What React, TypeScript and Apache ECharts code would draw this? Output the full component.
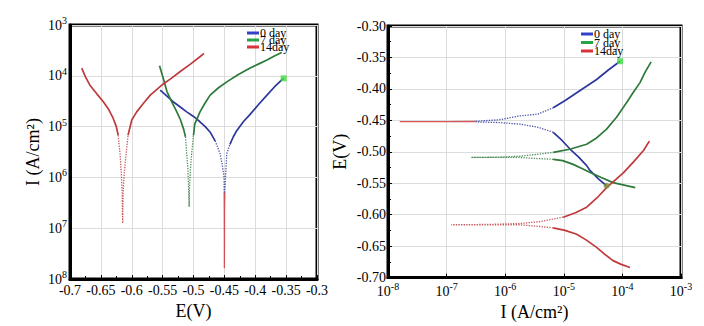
import React, { useEffect, useRef } from "react";
import * as echarts from "echarts";

const FONT = "'Liberation Serif', 'Times New Roman', serif";

const dayNames = ["0 day", "7 day", "14day"];
const lineColors = ["#2c379c", "#2e7a3a", "#c03a3c"];
const legendColors = ["#3340c8", "#27a448", "#d6333b"];
const spikeColor = "#cc3a3a";
const endMarkerColor = "#3fdc3f";
const startMarkerColor = "#7f8f3a";

const eMin = -0.7;
const eMax = -0.3;
const eStep = 0.05;
const iMin = 1e-8;
const iMax = 1e-3;

// ---- Left panel: I vs E (E in V, log10 of I in A/cm2) ----
const blueLeftE = [-0.554, -0.543, -0.533, -0.522, -0.511, -0.5, -0.49, -0.481, -0.473, -0.465, -0.457, -0.4535, -0.4506, -0.4503, -0.4502, -0.4501, -0.45, -0.45, -0.4499, -0.4498, -0.4497, -0.4493, -0.448, -0.446, -0.441, -0.4355, -0.43, -0.419, -0.409, -0.395, -0.381, -0.369, -0.357, -0.354];
const blueLeftLogI = [-4.28, -4.4, -4.51, -4.61, -4.71, -4.8, -4.9, -5.0, -5.11, -5.28, -5.53, -5.75, -5.99, -6.3, -6.6, -7.0, -7.4, -7.79, -7.4, -7.0, -6.6, -6.3, -5.95, -5.53, -5.35, -5.2, -5.08, -4.9, -4.77, -4.57, -4.38, -4.22, -4.08, -4.05];
const greenLeftE = [-0.555, -0.549, -0.543, -0.535, -0.527, -0.521, -0.516, -0.513, -0.511, -0.509, -0.508, -0.507, -0.5065, -0.505, -0.503, -0.5, -0.498, -0.4895, -0.481, -0.473, -0.46, -0.446, -0.428, -0.409, -0.395, -0.381, -0.369, -0.357];
const greenLeftLogI = [-3.8, -4.05, -4.31, -4.52, -4.71, -4.87, -5.05, -5.2, -5.53, -5.85, -6.2, -6.58, -6.2, -5.85, -5.53, -5.17, -4.95, -4.71, -4.53, -4.38, -4.24, -4.12, -3.98, -3.85, -3.77, -3.69, -3.61, -3.54];
const redLeftE = [-0.681, -0.675, -0.668, -0.657, -0.646, -0.637, -0.63, -0.625, -0.622, -0.619, -0.617, -0.6155, -0.6147, -0.614, -0.612, -0.609, -0.606, -0.6, -0.592, -0.581, -0.57, -0.549, -0.536, -0.522, -0.505, -0.489, -0.483];
const redLeftLogI = [-3.85, -4.02, -4.18, -4.35, -4.51, -4.67, -4.84, -5.0, -5.17, -5.53, -5.9, -6.3, -6.9, -6.3, -5.9, -5.53, -5.17, -4.87, -4.71, -4.54, -4.38, -4.16, -4.05, -3.92, -3.77, -3.62, -3.56];

// ---- Right panel: E vs I ----
const blueRightE = [-0.554, -0.543, -0.53, -0.522, -0.508, -0.496, -0.482, -0.469, -0.461, -0.456, -0.4535, -0.4525, -0.452, -0.452, -0.452, -0.4515, -0.449, -0.443, -0.44, -0.43, -0.418, -0.406, -0.395, -0.385, -0.37, -0.356];
const blueRightLogI = [-4.27, -4.41, -4.55, -4.61, -4.75, -4.89, -5.03, -5.18, -5.44, -5.75, -6.1, -6.5, -7.0, -7.8, -7.0, -6.5, -6.1, -5.75, -5.44, -5.18, -4.97, -4.78, -4.6, -4.44, -4.24, -4.04];
const greenRightE = [-0.557, -0.553, -0.549, -0.541, -0.533, -0.526, -0.52, -0.514, -0.512, -0.5105, -0.509, -0.509, -0.509, -0.5085, -0.507, -0.504, -0.501, -0.496, -0.488, -0.478, -0.464, -0.445, -0.422, -0.405, -0.39, -0.373, -0.357];
const greenRightLogI = [-3.78, -3.97, -4.16, -4.36, -4.55, -4.7, -4.84, -5.02, -5.18, -5.5, -5.75, -6.1, -6.58, -6.1, -5.75, -5.45, -5.18, -4.9, -4.61, -4.44, -4.27, -4.1, -3.93, -3.81, -3.7, -3.61, -3.51];
const redRightE = [-0.684, -0.679, -0.673, -0.663, -0.652, -0.64, -0.631, -0.625, -0.621, -0.618, -0.616, -0.616, -0.616, -0.6155, -0.614, -0.611, -0.604, -0.597, -0.588, -0.573, -0.557, -0.533, -0.516, -0.498, -0.483];
const redRightLogI = [-3.87, -4.02, -4.16, -4.3, -4.44, -4.62, -4.78, -4.98, -5.18, -5.5, -5.75, -6.3, -6.92, -6.3, -5.75, -5.4, -5.01, -4.8, -4.61, -4.43, -4.27, -3.98, -3.81, -3.64, -3.54];

const leftCurves = [
  { E: blueLeftE, L: blueLeftLogI },
  { E: greenLeftE, L: greenLeftLogI },
  { E: redLeftE, L: redLeftLogI },
];
const rightCurves = [
  { E: blueRightE, L: blueRightLogI },
  { E: greenRightE, L: greenRightLogI },
  { E: redRightE, L: redRightLogI },
];

const dottedBelowLeft = -5.5;
const dottedBelowRight = -5.4;
const redTailBelow = -6.55;

type Seg = { cat: string; idx: number[] };

function toSegments(L: number[], threshold: number, redBelow: number | null): Seg[] {
  const cat = (l: number) =>
    redBelow !== null && l <= redBelow ? "red" : l <= threshold ? "dotted" : "solid";
  const segs: Seg[] = [];
  let cur: Seg | null = null;
  for (let i = 0; i < L.length - 1; i++) {
    const c = cat(Math.min(L[i], L[i + 1]));
    if (!cur || cur.cat !== c) {
      cur = { cat: c, idx: [i] };
      segs.push(cur);
    }
    cur.idx.push(i + 1);
  }
  return segs;
}

function buildSeries(panel: number) {
  const curves = panel === 0 ? leftCurves : rightCurves;
  const th = panel === 0 ? dottedBelowLeft : dottedBelowRight;
  const out: any[] = [];
  curves.forEach((c, k) => {
    const segs = toSegments(c.L, th, k === 0 ? redTailBelow : null);
    segs.forEach((s) => {
      const data = s.idx.map((i) =>
        panel === 0 ? [c.E[i], Math.pow(10, c.L[i])] : [Math.pow(10, c.L[i]), c.E[i]]
      );
      const isRed = s.cat === "red";
      out.push({
        type: "line",
        name: dayNames[k],
        xAxisIndex: panel,
        yAxisIndex: panel,
        data,
        showSymbol: false,
        symbol: "none",
        silent: true,
        z: isRed ? 4 : 3,
        itemStyle: { color: legendColors[k] },
        lineStyle: {
          color: isRed ? spikeColor : lineColors[k],
          width: s.cat === "solid" ? 1.7 : 1.3,
          type: s.cat === "dotted" ? "dotted" : "solid",
          opacity: s.cat === "solid" ? 1 : 0.85,
        },
      });
    });
  });
  return out;
}

function markerSeries() {
  const bl = leftCurves[0];
  const br = rightCurves[0];
  const nl = bl.E.length - 1;
  const nr = br.E.length - 1;
  return [
    {
      type: "scatter",
      xAxisIndex: 0,
      yAxisIndex: 0,
      symbol: "rect",
      symbolSize: 6,
      z: 6,
      silent: true,
      itemStyle: { color: endMarkerColor },
      data: [[bl.E[nl], Math.pow(10, bl.L[nl])]],
    },
    {
      type: "scatter",
      xAxisIndex: 1,
      yAxisIndex: 1,
      symbol: "rect",
      symbolSize: 6,
      z: 6,
      silent: true,
      itemStyle: { color: endMarkerColor },
      data: [[Math.pow(10, br.L[nr]), br.E[nr]]],
    },
    {
      type: "scatter",
      xAxisIndex: 1,
      yAxisIndex: 1,
      symbol: "circle",
      symbolSize: 6,
      z: 6,
      silent: true,
      itemStyle: { color: startMarkerColor },
      data: [[Math.pow(10, br.L[0]), br.E[0]]],
    },
  ];
}

const powLabel = (v: number, showMinus: boolean) => {
  const ex = Math.round(Math.log10(v));
  return "{b|10}{s|" + (showMinus ? String(ex) : String(Math.abs(ex))) + "}";
};

const powRich = {
  b: { fontFamily: FONT, fontSize: 14, color: "#000" },
  s: { fontFamily: FONT, fontSize: 10, color: "#000", padding: [0, 0, 9, 0] },
};

const splitStyle = { show: true, lineStyle: { color: "#dcdcdc", width: 1 } };
const frameLine = { show: true, onZero: false, lineStyle: { color: "#000", width: 3 } };
const nameStyle = { fontFamily: FONT, fontSize: 18, color: "#000" };
const labelStyle = { fontFamily: FONT, fontSize: 14, color: "#000" };

export default function App() {
  const ref = useRef<HTMLDivElement>(null);
  useEffect(() => {
    if (!ref.current) return;
    const chart = echarts.init(ref.current, undefined, { renderer: "svg" });
    const legendData = dayNames.map((n, k) => ({ name: n, itemStyle: { color: legendColors[k] } }));
    const legendBase = {
      data: legendData,
      orient: "vertical",
      icon: "rect",
      itemWidth: 12,
      itemHeight: 3,
      padding: 0,
      selectedMode: false,
      textStyle: { fontFamily: FONT, fontSize: 12, color: "#000", padding: [0, 0, 0, -4] },
    };
    chart.setOption({
      animation: false,
      backgroundColor: "#fff",
      textStyle: { fontFamily: FONT },
      legend: [
        { ...legendBase, left: 247, top: 27, itemGap: -5 },
        { ...legendBase, left: 581, top: 28, itemGap: -3.5 },
      ],
      grid: [
        { left: 70, top: 25, width: 247, height: 254, show: true, borderColor: "#000", borderWidth: 3 },
        { left: 388, top: 26, width: 293, height: 252, show: true, borderColor: "#000", borderWidth: 3 },
      ],
      xAxis: [
        {
          gridIndex: 0,
          type: "value",
          min: eMin,
          max: eMax,
          interval: eStep,
          name: "E(V)",
          nameLocation: "middle",
          nameGap: 22,
          nameTextStyle: nameStyle,
          axisLine: frameLine,
          axisTick: { show: true, inside: true, length: 4, lineStyle: { color: "#000" } },
          minorTick: { show: true, splitNumber: 2, length: 3, lineStyle: { color: "#000" } },
          axisLabel: { ...labelStyle, margin: 4 },
          splitLine: splitStyle,
        },
        {
          gridIndex: 1,
          type: "log",
          logBase: 10,
          min: iMin,
          max: iMax,
          name: "I (A/cm²)",
          nameLocation: "middle",
          nameGap: 24,
          nameTextStyle: nameStyle,
          axisLine: frameLine,
          axisTick: { show: true, inside: true, length: 4, lineStyle: { color: "#000" } },
          axisLabel: {
            ...labelStyle,
            margin: 4,
            formatter: (v: number) => powLabel(v, true),
            rich: powRich,
          },
          splitLine: splitStyle,
        },
      ],
      yAxis: [
        {
          gridIndex: 0,
          type: "log",
          logBase: 10,
          min: iMin,
          max: iMax,
          name: "I (A/cm²)",
          nameLocation: "middle",
          nameGap: 28,
          nameTextStyle: nameStyle,
          axisLine: frameLine,
          axisTick: { show: false },
          axisLabel: {
            ...labelStyle,
            margin: 3,
            formatter: (v: number) => powLabel(v, false),
            rich: powRich,
          },
          splitLine: splitStyle,
        },
        {
          gridIndex: 1,
          type: "value",
          min: eMin,
          max: eMax,
          interval: eStep,
          name: "E(V)",
          nameLocation: "middle",
          nameGap: 39,
          nameTextStyle: nameStyle,
          axisLine: frameLine,
          axisTick: { show: true, inside: true, length: 4, lineStyle: { color: "#000" } },
          minorTick: { show: true, splitNumber: 2, length: 3, lineStyle: { color: "#000" } },
          axisLabel: {
            ...labelStyle,
            margin: 2,
            formatter: (v: number) => v.toFixed(2),
          },
          splitLine: splitStyle,
        },
      ],
      series: [...buildSeries(0), ...buildSeries(1), ...markerSeries()],
    });
    return () => chart.dispose();
  }, []);
  return (
    <div
      ref={ref}
      style={{ position: "fixed", left: 0, top: 0, width: 704, height: 326, background: "#fff" }}
    />
  );
}
